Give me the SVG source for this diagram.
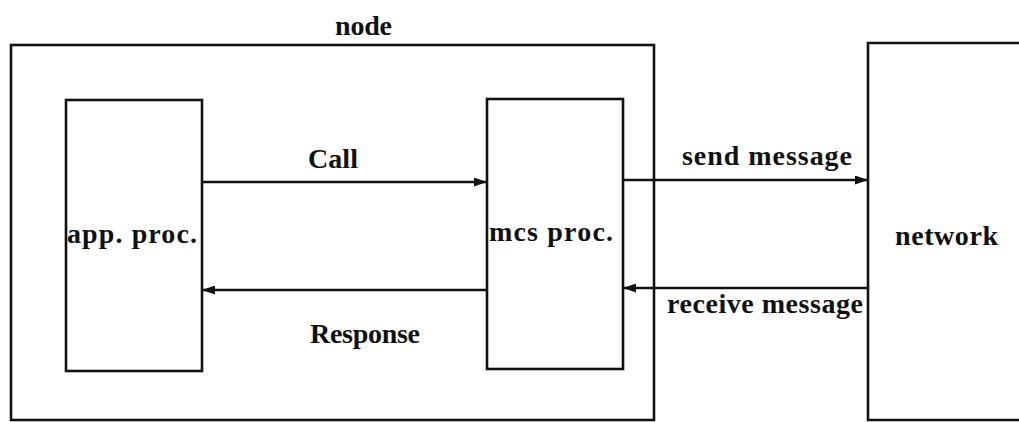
<svg xmlns="http://www.w3.org/2000/svg" width="1019" height="422" viewBox="0 0 1019 422">
  <defs>
    <style>
      .box { fill: none; stroke: #111; stroke-width: 2.6; }
      .conn { fill: none; stroke: #111; stroke-width: 2.4; }
      .lbl { font-family: "Liberation Serif", "Times New Roman", serif; font-size: 28px; font-weight: bold; fill: #111; }
    </style>
    <marker id="arrow" viewBox="0 0 13 9" refX="13" refY="4.5" markerWidth="13" markerHeight="9" markerUnits="userSpaceOnUse" orient="auto">
      <path d="M0,0 L13,4.5 L0,9 Z" fill="#111"/>
    </marker>
  </defs>

  <!-- outer processor node -->
  <g id="node">
    <rect class="box" x="11" y="45" width="643" height="375"/>
    <text class="lbl" x="335" y="35" textLength="57" lengthAdjust="spacing">node</text>
  </g>

  <!-- application process -->
  <g id="app-proc">
    <rect class="box" x="66" y="100" width="136" height="271"/>
    <text class="lbl" x="67" y="243" textLength="130" lengthAdjust="spacing">app. proc.</text>
  </g>

  <!-- message-passing process -->
  <g id="mcs-proc">
    <rect class="box" x="487" y="99" width="136" height="270"/>
    <text class="lbl" x="489" y="241" textLength="124" lengthAdjust="spacing">mcs proc.</text>
  </g>

  <!-- network, open on the right -->
  <g id="network">
    <path class="box" d="M1021,43 H868 V420 H1021"/>
    <text class="lbl" x="895" y="245" textLength="103" lengthAdjust="spacing">network</text>
  </g>

  <!-- connectors -->
  <g id="connectors">
    <line class="conn" x1="202" y1="182" x2="487" y2="182" marker-end="url(#arrow)"/>
    <line class="conn" x1="487" y1="290" x2="202" y2="290" marker-end="url(#arrow)"/>
    <line class="conn" x1="623" y1="180" x2="868" y2="180" marker-end="url(#arrow)"/>
    <line class="conn" x1="868" y1="288" x2="623" y2="288" marker-end="url(#arrow)"/>
    <text class="lbl" x="308" y="168" textLength="50" lengthAdjust="spacing">Call</text>
    <text class="lbl" x="310" y="343" textLength="110" lengthAdjust="spacing">Response</text>
    <text class="lbl" x="682" y="165" textLength="170" lengthAdjust="spacing">send message</text>
    <text class="lbl" x="667" y="313" textLength="196" lengthAdjust="spacing">receive message</text>
  </g>
</svg>
